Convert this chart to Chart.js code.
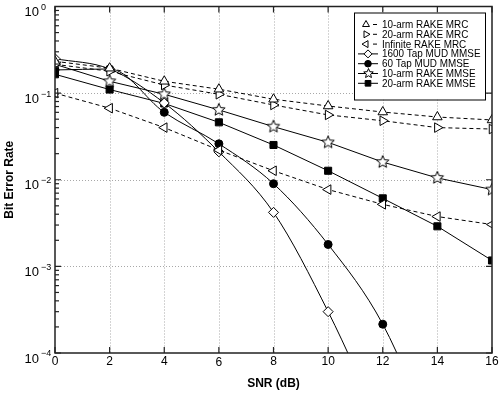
<!DOCTYPE html>
<html>
<head>
<meta charset="utf-8">
<script src="https://cdn.jsdelivr.net/npm/chart.js@4"></script>
<style>
  body { margin: 0; background: #fff; }
  canvas { display: block; }
</style>
</head>
<body>
<canvas id="chart" width="500" height="393"></canvas>
<script>
// SNR in dB, one entry per measured point
const snr = [0, 2, 4, 6, 8, 10, 12, 14, 16];

// bit error rates
const rake10Mrc = [0.233, 0.194, 0.137, 0.111, 0.085, 0.071, 0.0605, 0.053, 0.049];
const rake20Mrc = [0.215, 0.179, 0.124, 0.097, 0.073, 0.056, 0.048, 0.040, 0.0385];
const rakeInfMrc = [0.1, 0.067, 0.040, 0.022, 0.0127, 0.0077, 0.0052, 0.00376, 0.00304];
// the MUD curves leave the bottom of the plot, last value is where the line heads
const mud1600 = [0.25, 0.19, 0.077, 0.021, 0.0042, 0.0003, 0.000013];
const mud60 = [0.185, 0.19, 0.06, 0.026, 0.009, 0.00179, 0.000215, 0.000008];
const rake10Mmse = [0.215, 0.137, 0.097, 0.064, 0.041, 0.027, 0.016, 0.0105, 0.0077];
const rake20Mmse = [0.165, 0.11, 0.076, 0.046, 0.0252, 0.0127, 0.0061, 0.0029, 0.00117];

const seriesNames = [
  "10-arm RAKE MRC", "20-arm RAKE MRC", "Infinite RAKE MRC",
  "1600 Tap MUD MMSE", "60 Tap MUD MMSE", "10-arm RAKE MMSE", "20-arm RAKE MMSE"
];
const xTicks = [0, 2, 4, 6, 8, 10, 12, 14, 16];
const yDecades = [0, -1, -2, -3, -4];

const yMin = 1e-4, yMax = 1;
const FONT = "'Liberation Sans', Arial, Helvetica, sans-serif";

// 5 point open star, chart.js has no such marker
function makeStar(r) {
  const c = document.createElement("canvas");
  const s = Math.ceil(r * 2 + 3);
  c.width = s; c.height = s;
  const g = c.getContext("2d");
  g.translate(s / 2, s / 2);
  g.beginPath();
  for (let i = 0; i < 10; i++) {
    const rr = i % 2 ? r * 0.45 : r;
    const a = -Math.PI / 2 + i * Math.PI / 5;
    g.lineTo(Math.cos(a) * rr, Math.sin(a) * rr);
  }
  g.closePath();
  g.fillStyle = "#fff";
  g.fill();
  g.lineWidth = 1;
  g.strokeStyle = "#000";
  g.stroke();
  return c;
}
const starBig = makeStar(6.5);
const starSmall = makeStar(5);

const pts = (vals) => vals.map((v, i) => ({ x: snr[i], y: v }));
const hideBelow = (r) => (ctx) => (ctx.raw && ctx.raw.y < yMin ? 0 : r);

function series(label, vals, o) {
  return Object.assign({
    label: label,
    data: pts(vals),
    borderColor: "#000",
    borderWidth: 1,
    pointBorderColor: "#000",
    pointBackgroundColor: "#fff",
    pointBorderWidth: 1,
    pointRadius: hideBelow(5),
    tension: 0
  }, o);
}

const datasets = [
  series(seriesNames[0], rake10Mrc, { borderDash: [4, 3], pointStyle: "triangle", pointRadius: 5.5 }),
  series(seriesNames[1], rake20Mrc, { borderDash: [4, 3], pointStyle: "triangle", pointRotation: 90, pointRadius: 5.5 }),
  series(seriesNames[2], rakeInfMrc, { borderDash: [4, 3], pointStyle: "triangle", pointRotation: -90, pointRadius: 5.5 }),
  series(seriesNames[3], mud1600, { pointStyle: "rectRot", cubicInterpolationMode: "monotone" }),
  series(seriesNames[4], mud60, { pointStyle: "circle", pointBackgroundColor: "#000", pointRadius: hideBelow(4), cubicInterpolationMode: "monotone" }),
  series(seriesNames[5], rake10Mmse, { pointStyle: starBig }),
  series(seriesNames[6], rake20Mmse, { pointStyle: "rect", pointBackgroundColor: "#000", pointRadius: 5 })
];

// grid under the data, frame + ticks + labels + legend on top
const framePlugin = {
  id: "frame",
  beforeDatasetsDraw(chart) {
    const { ctx, chartArea: a, scales: { x, y } } = chart;
    ctx.save();
    ctx.strokeStyle = "#a8a8a8";
    ctx.lineWidth = 1;
    ctx.setLineDash([1, 2]);
    xTicks.slice(1, -1).forEach(t => {
      const px = Math.round(x.getPixelForValue(t)) + 0.5;
      ctx.beginPath(); ctx.moveTo(px, a.top); ctx.lineTo(px, a.bottom); ctx.stroke();
    });
    yDecades.slice(1, -1).forEach(d => {
      const py = Math.round(y.getPixelForValue(Math.pow(10, d))) + 0.5;
      ctx.beginPath(); ctx.moveTo(a.left, py); ctx.lineTo(a.right, py); ctx.stroke();
    });
    ctx.restore();
  },
  afterDraw(chart) {
    const { ctx, chartArea: a, scales: { x, y } } = chart;
    ctx.save();
    ctx.strokeStyle = "#222";
    ctx.lineWidth = 1.5;
    ctx.strokeRect(a.left, a.top, a.right - a.left, a.bottom - a.top);

    // x ticks, inward on bottom and top
    ctx.lineWidth = 1.2;
    ctx.fillStyle = "#000";
    ctx.font = "12px " + FONT;
    ctx.textAlign = "center";
    ctx.textBaseline = "middle";
    xTicks.forEach(t => {
      const px = x.getPixelForValue(t);
      ctx.beginPath();
      ctx.moveTo(px, a.bottom); ctx.lineTo(px, a.bottom - 6);
      ctx.moveTo(px, a.top); ctx.lineTo(px, a.top + 6);
      ctx.stroke();
      ctx.fillText(String(t), px, a.bottom + 9 + (t === 6 ? 1 : 0));
    });

    // y ticks: decades both sides, minor ones on the left
    yDecades.forEach(d => {
      const py = y.getPixelForValue(Math.pow(10, d));
      ctx.beginPath();
      ctx.moveTo(a.left, py); ctx.lineTo(a.left + 6, py);
      ctx.moveTo(a.right, py); ctx.lineTo(a.right - 6, py);
      ctx.stroke();
      if (d > -4) {
        for (let m = 2; m <= 9; m++) {
          const pm = y.getPixelForValue(m * Math.pow(10, d - 1));
          ctx.beginPath(); ctx.moveTo(a.left, pm); ctx.lineTo(a.left + 4, pm); ctx.stroke();
        }
      }
      // 10^d label
      ctx.textAlign = "right";
      ctx.font = "13px " + FONT;
      ctx.fillText("10", a.left - 16, py + 6);
      ctx.textAlign = "left";
      ctx.font = "9px " + FONT;
      ctx.fillText(d === 0 ? "0" : "\u2212" + (-d), a.left - 14, py + 1);
    });

    // axis titles
    ctx.font = "bold 12px " + FONT;
    ctx.textAlign = "center";
    ctx.fillText("SNR (dB)", (a.left + a.right) / 2, 384);
    ctx.save();
    ctx.translate(10, (a.top + a.bottom) / 2);
    ctx.rotate(-Math.PI / 2);
    ctx.fillText("Bit Error Rate", 0, 0);
    ctx.restore();

    // legend box
    const bx = a.right - 138, by = a.top + 6, bw = 131, bh = 87;
    ctx.fillStyle = "#fff";
    ctx.fillRect(bx, by, bw, bh);
    ctx.lineWidth = 1;
    ctx.strokeStyle = "#000";
    ctx.strokeRect(bx + 0.5, by + 0.5, bw, bh);
    ctx.font = "11px " + FONT;
    ctx.textAlign = "left";
    chart.data.datasets.forEach((ds, i) => {
      const ry = by + 12 + i * 9.8;
      const mx = bx + 12;
      ctx.strokeStyle = "#000";
      ctx.setLineDash([]);
      ctx.beginPath();
      if (ds.borderDash) { ctx.moveTo(mx + 7, ry); ctx.lineTo(mx + 11, ry); }
      else { ctx.moveTo(bx + 4, ry); ctx.lineTo(mx + 12, ry); }
      ctx.stroke();
      if (ds.pointStyle === starBig) {
        ctx.drawImage(starSmall, Math.round(mx + 2 - starSmall.width / 2), Math.round(ry - starSmall.height / 2));
      } else {
        ctx.fillStyle = ds.pointBackgroundColor;
        Chart.helpers.drawPoint(ctx, {
          pointStyle: ds.pointStyle,
          rotation: ds.pointRotation || 0,
          radius: ds.pointStyle === "circle" ? 3.3 : 4,
          borderWidth: 1
        }, ds.borderDash ? mx : mx + 2, ry);
      }
      ctx.fillStyle = "#000";
      const w = ctx.measureText(ds.label).width;
      ctx.fillText(ds.label, bx + 28, ry + 0.5, w * 0.9);
    });
    ctx.restore();
  }
};

new Chart(document.getElementById("chart"), {
  type: "line",
  data: { datasets: datasets },
  options: {
    responsive: false,
    animation: false,
    layout: { padding: { left: 55, top: 5, right: 8, bottom: 40 } },
    plugins: { legend: { display: false }, tooltip: { enabled: false } },
    scales: {
      x: { type: "linear", min: 0, max: 16, display: false },
      y: { type: "logarithmic", min: yMin, max: yMax, display: false }
    }
  },
  plugins: [framePlugin]
});
</script>
</body>
</html>
